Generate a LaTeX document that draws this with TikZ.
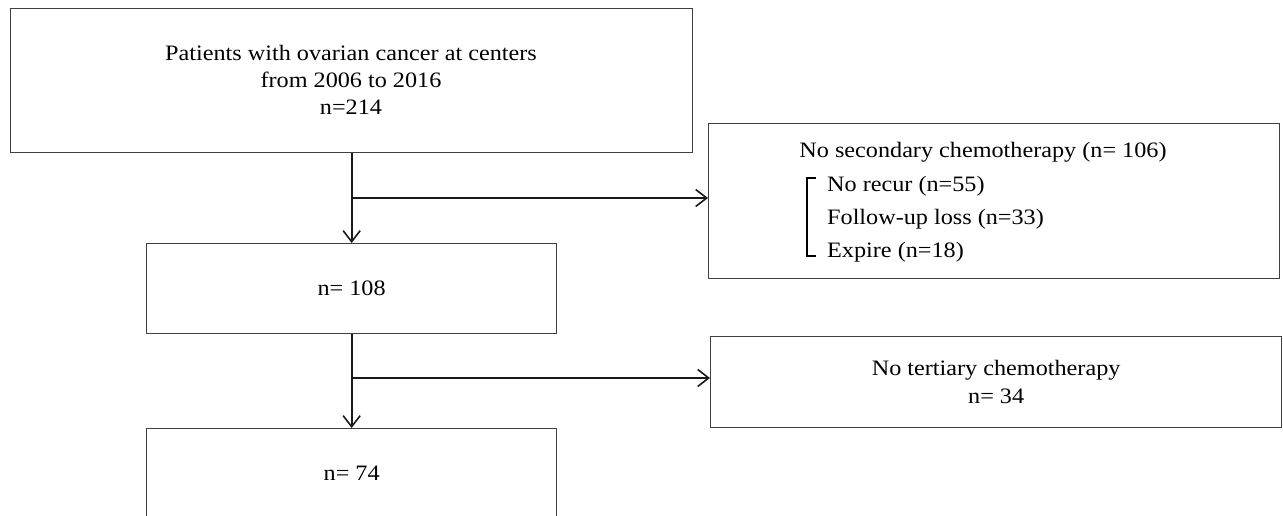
\documentclass[tikz,border=0pt]{standalone}
\usepackage{fontspec}
\setmainfont{Liberation Serif}[FakeStretch=1.1]
\usetikzlibrary{arrows.meta}
\begin{document}
\begin{tikzpicture}[x=1pt,y=-1pt,
  box/.style={draw=black!75,line width=1.3pt,rectangle,inner sep=0pt,anchor=north west},
  txt/.style={inner sep=0pt,font=\fontsize{22}{26}\selectfont,align=center},
  conn/.style={line width=1.8pt,black!90},
  arr/.style={conn,-{Straight Barb[length=11pt,width=17pt,line width=1.6pt]}}]
\useasboundingbox (0,0) rectangle (1283,516);
% main column boxes
\node[box,minimum width=682pt,minimum height=144pt] (b1) at (10,8) {};
\node[txt] (t1) at (351,80) {Patients with ovarian cancer at centers\\[1pt]from 2006 to 2016\\[1pt]n=214};
\node[box,minimum width=410pt,minimum height=90pt] (b2) at (146,243) {};
\node[txt] (t2) at (b2.center) {n= 108};
\node[box,minimum width=410pt,minimum height=90pt] (b3) at (146,428) {};
\node[txt] (t3) at (b3.center) {n= 74};
% side boxes
\node[box,minimum width=571pt,minimum height=155pt] (s1) at (708,123) {};
\node[txt,anchor=base] (t4) at (983,158) {No secondary chemotherapy (n= 106)};
\node[txt,anchor=base west] (l1) at (827,191) {No recur (n=55)};
\node[txt,anchor=base west] (l2) at (827,224) {Follow-up loss (n=33)};
\node[txt,anchor=base west] (l3) at (827,257) {Expire (n=18)};
\draw[line width=1.5pt] (816,178) -- (807,178) -- (807,256) -- (816,256);
\node[box,minimum width=571pt,minimum height=91pt] (s2) at (710,336) {};
\node[txt] (t5) at (s2.center) {No tertiary chemotherapy\\[2pt]n= 34};
% connectors
\coordinate (j1) at (b1.south |- 0,198);
\coordinate (j2) at (b2.south |- 0,378);
\draw[arr] (b1.south) -- (b2.north);
\draw[arr] (j1) -- (s1.west |- j1);
\draw[arr] (b2.south) -- (b3.north);
\draw[arr] (j2) -- (s2.west |- j2);
\end{tikzpicture}
\end{document}
